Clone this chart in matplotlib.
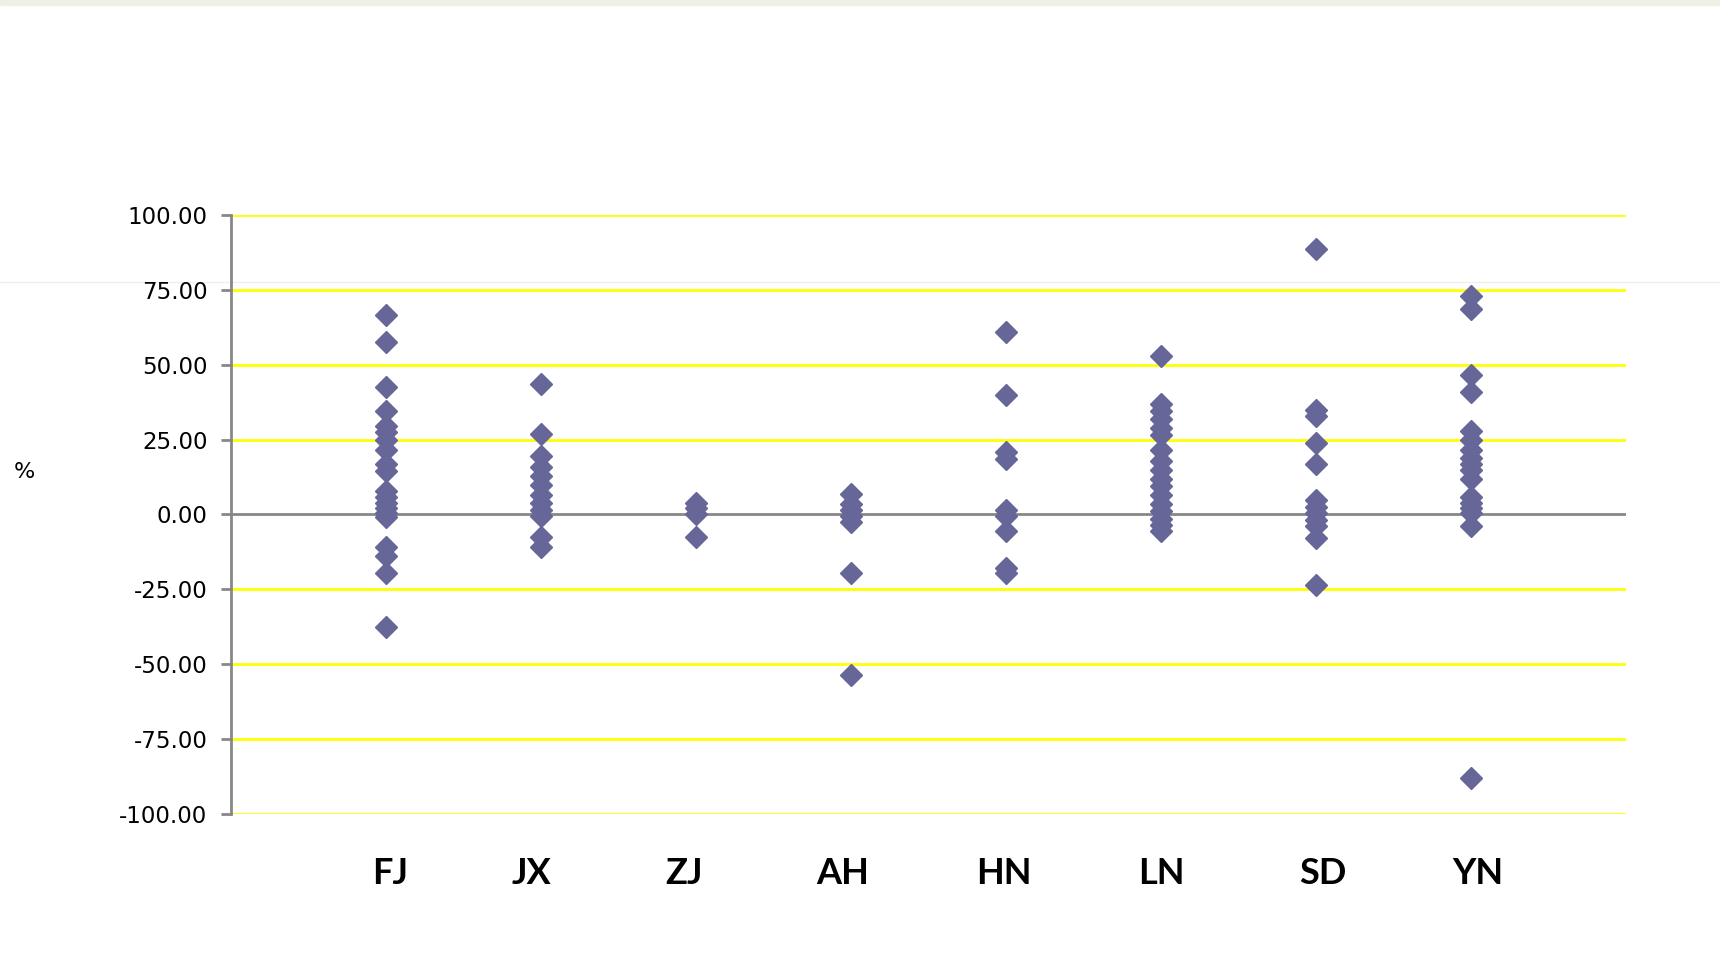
import matplotlib
matplotlib.use('Agg')
import matplotlib.pyplot as plt
from matplotlib.lines import Line2D
from matplotlib.patches import Rectangle
from matplotlib.transforms import ScaledTranslation

# DATA (percent change per province)
provinces = ['FJ', 'JX', 'ZJ', 'AH', 'HN', 'LN', 'SD', 'YN']
fj = [66.5, 57.5, 42.5, 34.5, 29.5, 27.5, 25, 21.5, 17, 14.5, 8, 6, 4, 2, 0.5, -1, -11, -14, -19.5, -37.5]
jx = [43.5, 27, 19.5, 16, 13, 10, 6.5, 4, 1.5, -0.5, -7.5, -11]
zj = [4, 2, 0, -7.5]
ah = [7, 3.5, 1.5, -0.5, -2.5, -19.5, -53.5]
hn = [61, 40, 21, 18.5, 1.5, -0.5, -5.5, -18, -19.5]
ln = [53, 37, 34.5, 32, 29, 26.5, 21.5, 18, 15, 12, 9.5, 6.5, 3.5, 1, -1.5, -3.5, -5.5]
sd = [88.5, 35, 33, 24, 17, 5, 2.5, 0.5, -2, -4, -8, -23.5]
yn = [73, 68.5, 46.5, 41, 28, 25, 21.5, 19, 17, 15, 12, 6, 4, 2, 0.5, -4, -88]
series = [fj, jx, zj, ah, hn, ln, sd, yn]
yticks = [-100, -75, -50, -25, 0, 25, 50, 75, 100]

fig = plt.figure(figsize=(17.2, 9.65), dpi=100)
ax = fig.add_axes([0.1343, 0.1565, 0.811, 0.6207])
ax.set_facecolor('none')
ax.set_zorder(1)

# slide artefacts: top strip and faint line
fig.patches.append(Rectangle((0, 0.995), 1, 0.005, transform=fig.transFigure,
                             color='#efefe6', zorder=0))
fig.lines.append(Line2D([0, 1], [0.708, 0.708], transform=fig.transFigure,
                        color='#f0f0ea', lw=1, zorder=0))

# yellow gridlines (except zero) and grey zero line
for t in yticks:
    if t != 0:
        ax.axhline(t, color='#ffff00', lw=2.0, zorder=1)
ax.axhline(0, color='#878787', lw=2.0, zorder=2)

for i, vals in enumerate(series):
    ax.plot([i + 1] * len(vals), vals, linestyle='none', marker='D',
            markersize=11.5, color='#666699', markeredgecolor='#666699', zorder=3)

ax.set_xlim(0, 9)
ax.set_ylim(-100, 100)
ax.set_yticks(yticks)
ax.set_yticklabels(['%.2f' % t for t in yticks], fontsize=16.5, family='DejaVu Sans')
ax.set_xticks(range(1, len(provinces) + 1))
ax.set_xticklabels(provinces, fontsize=26, family='Lato', fontweight='bold')
ax.tick_params(axis='x', length=0, pad=31)
ax.tick_params(axis='y', length=7, width=2, color='#878787', pad=10)

# the slide's text boxes sit a little off the category centres
shifts = [4, -9, -12, -8, -2, 0, 7, 7]
for lab, dx in zip(ax.get_xticklabels(), shifts):
    lab.set_transform(lab.get_transform() + ScaledTranslation(dx / 100, 0, fig.dpi_scale_trans))

for s in ['top', 'right', 'bottom']:
    ax.spines[s].set_visible(False)
ax.spines['left'].set_color('#878787')
ax.spines['left'].set_linewidth(2)

fig.text(0.008, 0.511, '%', fontsize=16, family='DejaVu Sans', va='center')

fig.savefig('out.png', dpi=100)
